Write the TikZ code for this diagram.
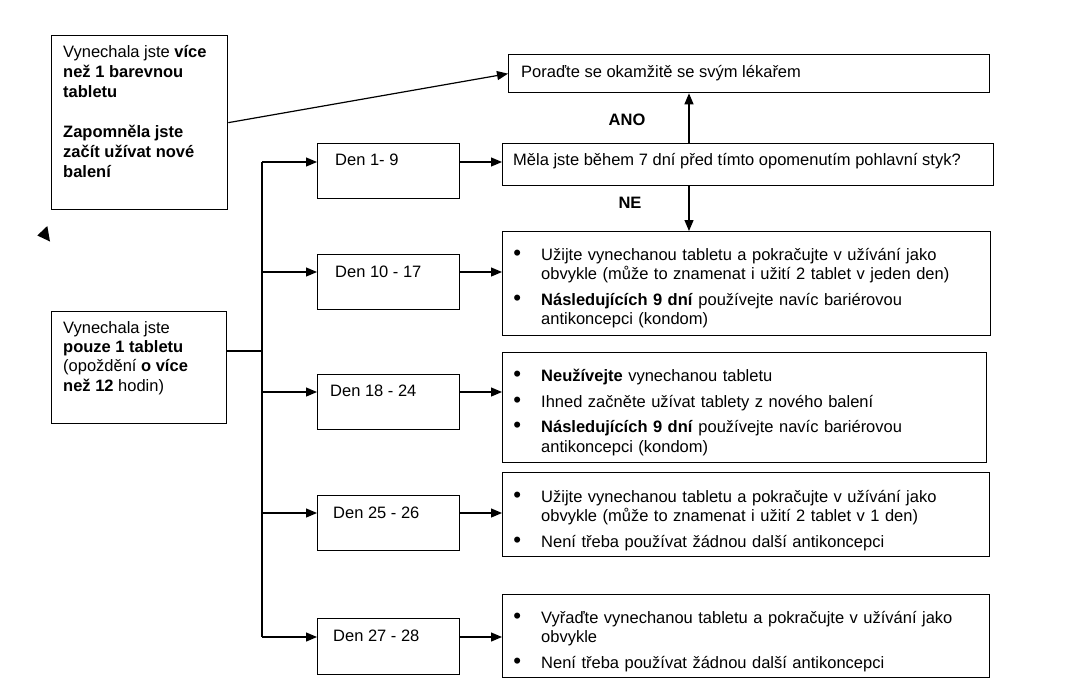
\documentclass[tikz,border=0pt]{standalone}
\usepackage{fontspec}
\usepackage{graphicx}
\setmainfont{Liberation Sans}
\usetikzlibrary{arrows.meta,calc}
\newcommand\bit[1]{\par\noindent\hangindent=32pt\hangafter=1\makebox[32pt][l]{\makebox[16pt]{\scalebox{1.35}{\textbullet}}}#1\par}
\begin{document}
\begin{tikzpicture}[x=1pt,y=-1pt,
  box/.style={draw, line width=1.3pt, inner sep=0pt, anchor=north west},
  txt/.style={inner sep=0pt, anchor=base west, align=left, font=\fontsize{16.5}{19.3}\selectfont},
  lst/.style={inner sep=0pt, anchor=base west, text width=470pt, align=left, font=\fontsize{16.5}{19.3}\selectfont},
  lbl/.style={inner sep=0pt, font=\fontsize{16.5}{19}\selectfont\bfseries},
  arr/.style={line width=1.2pt, -{Triangle[length=11pt,width=9pt]}},
  ln/.style={line width=1.2pt}]
\useasboundingbox (0,0) rectangle (1065,688);

% left boxes
\node[box, minimum width=176pt, minimum height=174pt] (A) at (51,35) {};
\node[txt, font=\fontsize{16.5}{20}\selectfont] (At) at (63,177) {Vynechala jste \textbf{více}\\ \textbf{než 1 barevnou}\\ \textbf{tabletu}\\[20pt] \textbf{Zapomněla jste}\\ \textbf{začít užívat nové}\\ \textbf{balení}};
\node[box, minimum width=175pt, minimum height=112pt] (B) at (51,311) {};
\node[txt] (Bt) at (63,391) {Vynechala jste\\ \textbf{pouze 1 tabletu}\\ (opoždění \textbf{o více}\\ \textbf{než 12} hodin)};

% stray arrowhead
\fill (47.3,226) -- (37.3,235.5) -- (50,241.5) -- cycle;

% top right boxes
\node[box, minimum width=481pt, minimum height=38pt] (P) at (508,54) {};
\node[txt] (Pt) at (521,77) {Poraďte se okamžitě se svým lékařem};
\node[box, minimum width=491pt, minimum height=42pt] (Q) at (502,143) {};
\node[txt] (Qt) at (513,165) {Měla jste během 7 dní před tímto opomenutím pohlavní styk?};
\node[lbl] (ano) at (627,120) {ANO};
\node[lbl] (ne) at (630,203) {NE};

% day boxes
\node[box, minimum width=142pt, minimum height=55pt] (D1) at (317,143) {};
\node[txt] (D1t) at (335,165) {Den 1- 9};
\node[box, minimum width=142pt, minimum height=55pt] (D2) at (317,254) {};
\node[txt] (D2t) at (335,277) {Den 10 - 17};
\node[box, minimum width=142pt, minimum height=55pt] (D3) at (317,374) {};
\node[txt] (D3t) at (330,396) {Den 18 - 24};
\node[box, minimum width=142pt, minimum height=55pt] (D4) at (317,495) {};
\node[txt] (D4t) at (333,518) {Den 25 - 26};
\node[box, minimum width=142pt, minimum height=56pt] (D5) at (317,618) {};
\node[txt] (D5t) at (333,641) {Den 27 - 28};

% instruction boxes
\node[box, minimum width=488pt, minimum height=104pt] (R1) at (502,231) {};
\node[lst] (R1t) at (509,241) {\bit{Užijte vynechanou tabletu a pokračujte v užívání jako\newline obvykle (může to znamenat i užití 2 tablet v jeden den)}\vspace{6.5pt}\bit{\textbf{Následujících 9 dní} používejte navíc bariérovou\newline antikoncepci (kondom)}};
\node[box, minimum width=484pt, minimum height=110pt] (R2) at (502,352) {};
\node[lst] (R2t) at (509,362) {\bit{\textbf{Neužívejte} vynechanou tabletu}\vspace{6.5pt}\bit{Ihned začněte užívat tablety z nového balení}\vspace{6.5pt}\bit{\textbf{Následujících 9 dní} používejte navíc bariérovou\newline antikoncepci (kondom)}};
\node[box, minimum width=487pt, minimum height=84pt] (R3) at (502,472) {};
\node[lst] (R3t) at (509,483) {\bit{Užijte vynechanou tabletu a pokračujte v užívání jako\newline obvykle (může to znamenat i užití 2 tablet v 1 den)}\vspace{6.5pt}\bit{Není třeba používat žádnou další antikoncepci}};
\node[box, minimum width=487pt, minimum height=83pt] (R4) at (502,594) {};
\node[lst] (R4t) at (509,604) {\bit{Vyřaďte vynechanou tabletu a pokračujte v užívání jako\newline obvykle}\vspace{6.5pt}\bit{Není třeba používat žádnou další antikoncepci}};

% trunk coordinates
\coordinate (t1) at (262,162);
\coordinate (t2) at (262,272);
\coordinate (t3) at (262,392);
\coordinate (t4) at (262,513);
\coordinate (t5) at (262,637);
\coordinate (jB) at (262,351);
\coordinate (v) at (689,0);

% connectors
\draw[arr] (A.east) -- (P.west);
\draw[ln] (t1) -- (t5);
\draw[ln] (B.east |- jB) -- (jB);
\foreach \i in {1,...,5} {\draw[arr] (t\i) -- (t\i -| D\i.west);}
\draw[arr] (t1 -| D1.east) -- (t1 -| Q.west);
\draw[arr] (t2 -| D2.east) -- (t2 -| R1.west);
\draw[arr] (t3 -| D3.east) -- (t3 -| R2.west);
\draw[arr] (t4 -| D4.east) -- (t4 -| R3.west);
\draw[arr] (t5 -| D5.east) -- (t5 -| R4.west);
\draw[arr] (v |- Q.north) -- (v |- P.south);
\draw[arr] (v |- Q.south) -- (v |- R1.north);
\end{tikzpicture}
\end{document}
